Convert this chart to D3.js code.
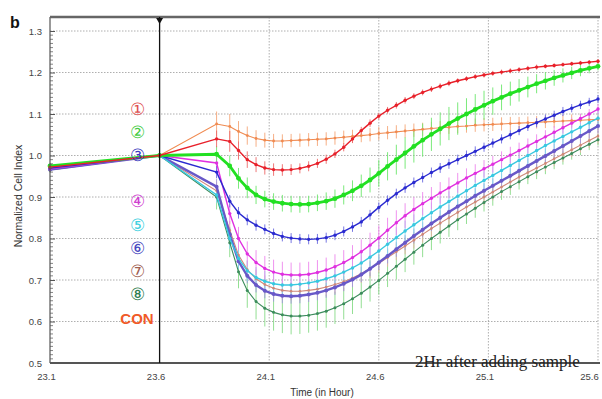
<!DOCTYPE html>
<html><head><meta charset="utf-8">
<script src="https://cdn.jsdelivr.net/npm/d3@7"></script>
<style>body{margin:0;background:#fff}svg{display:block}</style>
</head><body><svg id="c" width="602" height="399"></svg>
<script>
// ---- data ----
const times=[23.1,23.6,23.86,23.92,23.96,24.00,24.04,24.08,24.12,24.16,24.20,24.24,24.28,24.32,24.36,24.40,24.44,24.48,24.52,24.56,24.60,24.64,24.68,24.72,24.76,24.80,24.84,24.88,24.92,24.96,25.00,25.04,25.08,25.12,25.16,25.20,25.24,25.28,25.32,25.36,25.40,25.44,25.48,25.52,25.56,25.60];
const xTicks=[23.1,23.6,24.1,24.6,25.1,25.6];
const yTicks=[0.5,0.6,0.7,0.8,0.9,1.0,1.1,1.2,1.3];
const seriesNames=["1","2","3","4","5","6","7","8","CON"];
const legendLabels=["①","②","③","④","⑤","⑥","⑦","⑧","CON"];

const s1=[0.972,1.0,1.040,1.034,1.012,0.990,0.978,0.970,0.966,0.965,0.966,0.969,0.974,0.981,0.991,1.004,1.020,1.040,1.060,1.078,1.095,1.109,1.121,1.133,1.143,1.152,1.160,1.167,1.174,1.180,1.185,1.190,1.194,1.198,1.201,1.204,1.207,1.210,1.213,1.215,1.217,1.219,1.221,1.223,1.225,1.227];
const s2=[0.975,1.0,1.003,0.975,0.945,0.922,0.905,0.895,0.889,0.885,0.883,0.882,0.883,0.886,0.890,0.896,0.905,0.915,0.927,0.941,0.957,0.974,0.990,1.006,1.022,1.037,1.051,1.064,1.077,1.089,1.100,1.111,1.121,1.131,1.140,1.149,1.157,1.165,1.173,1.180,1.187,1.193,1.199,1.205,1.210,1.215];
const s3=[0.970,1.0,0.960,0.890,0.862,0.845,0.832,0.822,0.812,0.805,0.801,0.799,0.798,0.799,0.802,0.808,0.817,0.828,0.840,0.857,0.875,0.892,0.908,0.922,0.935,0.947,0.959,0.970,0.980,0.990,1.000,1.010,1.020,1.030,1.040,1.050,1.060,1.070,1.079,1.088,1.097,1.106,1.114,1.122,1.129,1.136];
const s4=[0.968,1.0,0.982,0.860,0.800,0.763,0.742,0.728,0.719,0.714,0.712,0.712,0.714,0.718,0.724,0.732,0.742,0.754,0.768,0.784,0.801,0.820,0.838,0.855,0.870,0.884,0.897,0.910,0.922,0.934,0.946,0.957,0.968,0.979,0.990,1.001,1.012,1.023,1.034,1.045,1.056,1.067,1.078,1.089,1.100,1.112];
const s5=[0.972,1.0,0.905,0.800,0.752,0.722,0.706,0.697,0.691,0.688,0.688,0.690,0.693,0.697,0.703,0.710,0.719,0.729,0.741,0.755,0.770,0.786,0.802,0.818,0.833,0.848,0.862,0.876,0.889,0.902,0.915,0.928,0.940,0.952,0.964,0.976,0.988,1.000,1.012,1.024,1.035,1.046,1.057,1.068,1.079,1.090];
const s6=[0.966,1.0,0.925,0.810,0.745,0.710,0.688,0.674,0.666,0.662,0.661,0.662,0.665,0.669,0.675,0.682,0.691,0.701,0.713,0.727,0.742,0.758,0.774,0.790,0.806,0.821,0.836,0.850,0.864,0.877,0.890,0.903,0.915,0.927,0.939,0.951,0.963,0.975,0.987,0.999,1.011,1.023,1.035,1.047,1.059,1.071];
const s7=[0.974,1.0,0.915,0.820,0.760,0.725,0.703,0.689,0.680,0.675,0.673,0.673,0.675,0.678,0.683,0.689,0.696,0.705,0.715,0.727,0.740,0.754,0.768,0.782,0.796,0.810,0.824,0.837,0.850,0.863,0.876,0.888,0.900,0.912,0.924,0.936,0.948,0.959,0.970,0.981,0.992,1.003,1.014,1.025,1.036,1.047];
const s8=[0.965,1.0,0.900,0.790,0.720,0.675,0.648,0.632,0.622,0.616,0.613,0.613,0.615,0.619,0.625,0.633,0.643,0.655,0.668,0.683,0.699,0.716,0.733,0.750,0.767,0.784,0.800,0.815,0.830,0.845,0.859,0.873,0.887,0.900,0.913,0.925,0.937,0.949,0.961,0.972,0.983,0.994,1.005,1.016,1.027,1.038];
const sCon=[0.968,1.0,1.076,1.070,1.058,1.048,1.041,1.037,1.035,1.035,1.036,1.037,1.038,1.039,1.040,1.042,1.044,1.046,1.048,1.050,1.053,1.055,1.057,1.059,1.061,1.063,1.065,1.067,1.068,1.070,1.071,1.073,1.074,1.075,1.076,1.077,1.078,1.079,1.080,1.081,1.082,1.083,1.084,1.085,1.086,1.087];

const e1=[0.006,0.003,0.020,0.025,0.022,0.020,0.018,0.016,0.015,0.014,0.013,0.012,0.012,0.011,0.011,0.010,0.010,0.010,0.009,0.009,0.008,0.008,0.008,0.008,0.007,0.007,0.007,0.007,0.007,0.006,0.006,0.006,0.006,0.006,0.006,0.006,0.006,0.006,0.006,0.005,0.005,0.005,0.005,0.005,0.005,0.005];
const e2=[0.006,0.003,0.020,0.025,0.025,0.025,0.022,0.020,0.020,0.020,0.020,0.020,0.020,0.020,0.021,0.022,0.023,0.025,0.027,0.030,0.032,0.034,0.036,0.038,0.039,0.040,0.040,0.040,0.040,0.039,0.038,0.037,0.035,0.033,0.031,0.029,0.027,0.025,0.023,0.021,0.019,0.017,0.015,0.014,0.012,0.010];
const e3=[0.006,0.003,0.015,0.015,0.014,0.013,0.013,0.012,0.012,0.012,0.012,0.012,0.012,0.012,0.012,0.012,0.012,0.012,0.012,0.012,0.012,0.012,0.012,0.012,0.012,0.012,0.012,0.012,0.012,0.012,0.012,0.012,0.011,0.011,0.011,0.011,0.011,0.011,0.011,0.011,0.011,0.011,0.010,0.010,0.010,0.010];
const e4=[0.006,0.003,0.020,0.025,0.028,0.030,0.030,0.030,0.030,0.030,0.030,0.030,0.030,0.030,0.030,0.030,0.030,0.030,0.030,0.030,0.030,0.030,0.030,0.030,0.030,0.028,0.027,0.026,0.025,0.024,0.023,0.022,0.021,0.020,0.020,0.020,0.019,0.018,0.017,0.016,0.015,0.014,0.013,0.012,0.012,0.012];
const e5=[0.006,0.003,0.020,0.025,0.025,0.025,0.025,0.025,0.025,0.025,0.025,0.025,0.025,0.025,0.025,0.025,0.025,0.025,0.025,0.025,0.025,0.025,0.025,0.025,0.025,0.025,0.025,0.025,0.025,0.025,0.025,0.025,0.022,0.022,0.022,0.022,0.022,0.022,0.022,0.022,0.022,0.022,0.018,0.018,0.018,0.018];
const e6=[0.006,0.003,0.018,0.018,0.018,0.018,0.018,0.018,0.018,0.018,0.018,0.018,0.018,0.018,0.018,0.018,0.018,0.018,0.018,0.018,0.018,0.018,0.018,0.018,0.018,0.018,0.018,0.018,0.018,0.018,0.018,0.018,0.018,0.018,0.018,0.018,0.018,0.018,0.018,0.018,0.018,0.018,0.018,0.018,0.018,0.018];
const e7=[0.006,0.003,0.022,0.022,0.022,0.022,0.022,0.022,0.022,0.022,0.022,0.022,0.022,0.022,0.022,0.022,0.022,0.022,0.022,0.022,0.022,0.022,0.020,0.020,0.020,0.020,0.020,0.020,0.020,0.020,0.020,0.020,0.020,0.020,0.020,0.020,0.018,0.018,0.018,0.018,0.018,0.018,0.018,0.018,0.018,0.018];
const e8=[0.006,0.003,0.030,0.035,0.040,0.042,0.043,0.044,0.044,0.044,0.044,0.043,0.042,0.041,0.040,0.039,0.038,0.037,0.036,0.035,0.034,0.033,0.032,0.031,0.030,0.029,0.028,0.027,0.026,0.025,0.024,0.023,0.022,0.021,0.020,0.020,0.019,0.018,0.018,0.017,0.016,0.016,0.015,0.015,0.014,0.014];
const eCon=[0.006,0.003,0.030,0.030,0.025,0.022,0.020,0.018,0.017,0.016,0.016,0.016,0.016,0.016,0.016,0.016,0.016,0.016,0.016,0.016,0.016,0.016,0.016,0.016,0.016,0.016,0.016,0.016,0.016,0.016,0.016,0.016,0.016,0.016,0.016,0.016,0.015,0.015,0.015,0.015,0.015,0.015,0.015,0.015,0.015,0.015];

// ---- styles ----
const seriesVals={"1":s1,"2":s2,"3":s3,"4":s4,"5":s5,"6":s6,"7":s7,"8":s8,"CON":sCon};
const seriesErr={"1":e1,"2":e2,"3":e3,"4":e4,"5":e5,"6":e6,"7":e7,"8":e8,"CON":eCon};
const style={
 "1":{line:"#e8202a",bar:"#ee6a6a",w:1.4,r:1.7,leg:"#e05050"},
 "2":{line:"#22e022",bar:"#6ee86e",w:2.8,r:2.4,leg:"#44cc44"},
 "3":{line:"#2a2ad0",bar:"#6a6ae0",w:1.4,r:1.7,leg:"#3a3ac0"},
 "4":{line:"#e030e0",bar:"#ee88ee",w:1.4,r:1.7,leg:"#d040d0"},
 "5":{line:"#38c8e0",bar:"#88d8ee",w:1.4,r:1.7,leg:"#40d0e0"},
 "6":{line:"#6858c8",bar:"#a098dc",w:2.4,r:2.0,leg:"#4848c0"},
 "7":{line:"#d08878",bar:"#e4b0a0",w:1.1,r:1.3,leg:"#a06050"},
 "8":{line:"#3c8c5c",bar:"#88dc88",w:1.1,r:1.5,leg:"#2e7d4f"},
 "CON":{line:"#f08a50",bar:"#f6a87a",w:1.1,r:1.4,leg:"#f05a28"}
};
const drawOrder=["CON","8","7","6","5","4","3","2","1"];

const svg=d3.select("#c");
const x=d3.scaleLinear().domain([23.1,25.6]).range([50,598]);
const y=d3.scaleLinear().domain([0.5,1.3]).range([363,31]);
const topY=17;

// grid
const g=svg.append("g");
g.selectAll(".hg").data(yTicks.filter(v=>v>0.5)).join("line")
 .attr("x1",50).attr("x2",598).attr("y1",d=>y(d)).attr("y2",d=>y(d))
 .attr("stroke","#9a9a9a").attr("stroke-width",0.8).attr("stroke-dasharray","1.5,1.5");
g.selectAll(".vg").data(xTicks.filter(v=>v>23.6)).join("line")
 .attr("x1",d=>x(d)).attr("x2",d=>x(d)).attr("y1",topY).attr("y2",363)
 .attr("stroke","#9a9a9a").attr("stroke-width",0.8).attr("stroke-dasharray","1.5,1.5");

// error bars
drawOrder.forEach(k=>{
  const v=seriesVals[k], e=seriesErr[k], st=style[k];
  svg.append("g").selectAll("line").data(times.map((t,i)=>({t,v:v[i],e:e[i]}))).join("line")
   .attr("x1",d=>x(d.t)).attr("x2",d=>x(d.t))
   .attr("y1",d=>y(d.v-d.e)).attr("y2",d=>y(d.v+d.e))
   .attr("stroke",st.bar).attr("stroke-width",1).attr("opacity",0.9);
});
// lines and markers
drawOrder.forEach(k=>{
  const v=seriesVals[k], st=style[k];
  const pts=times.map((t,i)=>({t,v:v[i]}));
  svg.append("path").datum(pts)
   .attr("d",d3.line().x(d=>x(d.t)).y(d=>y(d.v)))
   .attr("fill","none").attr("stroke",st.line).attr("stroke-width",st.w);
  svg.append("g").selectAll("circle").data(pts).join("circle")
   .attr("cx",d=>x(d.t)).attr("cy",d=>y(d.v)).attr("r",st.r).attr("fill",st.line);
});

// axes
const ya=d3.axisLeft(y).tickValues(yTicks).tickFormat(d3.format(".1f")).tickSize(-5).tickPadding(8);
const yAx=svg.append("g").attr("transform","translate(50,0)").call(ya);
yAx.select(".domain").remove();
yAx.selectAll(".tick line").attr("stroke","#555");
yAx.selectAll("text").attr("font-family","Liberation Sans, Arial, sans-serif").attr("font-size",9.5).attr("fill","#444");
const minor=d3.range(50,131).map(i=>i/100).filter(v=>Math.round(v*100)%10!==0);
svg.append("g").selectAll("line").data(minor).join("line")
 .attr("x1",50).attr("x2",53).attr("y1",d=>y(d)).attr("y2",d=>y(d)).attr("stroke","#666").attr("stroke-width",0.8);
svg.append("line").attr("x1",50).attr("x2",50).attr("y1",topY).attr("y2",363).attr("stroke","#555").attr("stroke-width",1.2);

const xa=d3.axisBottom(x).tickValues(xTicks).tickFormat(d3.format(".1f")).tickSize(0).tickPadding(10);
const xAx=svg.append("g").attr("transform","translate(0,363)").call(xa);
xAx.select(".domain").remove();
xAx.selectAll("text").attr("font-family","Liberation Sans, Arial, sans-serif").attr("font-size",9.5).attr("fill","#444")
 .attr("dx",(d,i)=>i===xTicks.length-1?-9:-4);
svg.append("line").attr("x1",50).attr("x2",600).attr("y1",363).attr("y2",363).attr("stroke","#555").attr("stroke-width",1.8);
svg.append("line").attr("x1",50).attr("x2",600).attr("y1",topY).attr("y2",topY).attr("stroke","#666").attr("stroke-width",2.5);

// start marker line
svg.append("line").attr("x1",x(23.6)).attr("x2",x(23.6)).attr("y1",topY).attr("y2",363).attr("stroke","#111").attr("stroke-width",1.3);
svg.append("path").attr("d",`M${x(23.6)-3.5},${topY+1}L${x(23.6)+3.5},${topY+1}L${x(23.6)},${topY+7}Z`).attr("fill","#111");

// titles
svg.append("text").attr("x",322).attr("y",396).attr("text-anchor","middle")
 .attr("font-family","Liberation Sans, Arial, sans-serif").attr("font-size",10).attr("fill","#333").text("Time (in Hour)");
svg.append("text").attr("transform","translate(22,196) rotate(-90)").attr("text-anchor","middle")
 .attr("font-family","Liberation Sans, Arial, sans-serif").attr("font-size",10.5).attr("fill","#333").text("Normalized Cell Index");
svg.append("text").attr("x",10).attr("y",28).attr("font-family","Liberation Sans, Arial, sans-serif")
 .attr("font-weight","bold").attr("font-size",16).attr("fill","#111").text("b");

// legend
const legY=[109,132,155,201,225,248,271,294,318];
seriesNames.forEach((k,i)=>{
  const isCon=k==="CON";
  svg.append("text").attr("x",137).attr("y",legY[i]).attr("text-anchor","middle").attr("dominant-baseline","central")
   .attr("font-family",isCon?"Liberation Sans, Arial, sans-serif":"DejaVu Serif, serif")
   .attr("font-weight",isCon?"bold":"normal")
   .attr("font-size",isCon?15:17).attr("fill",style[k].leg).text(legendLabels[i]);
});

// annotation
svg.append("text").attr("x",415).attr("y",367).attr("font-family","Liberation Serif, Times New Roman, serif")
 .attr("font-size",17).attr("fill","#222").text("2Hr after adding sample");
</script></body></html>
